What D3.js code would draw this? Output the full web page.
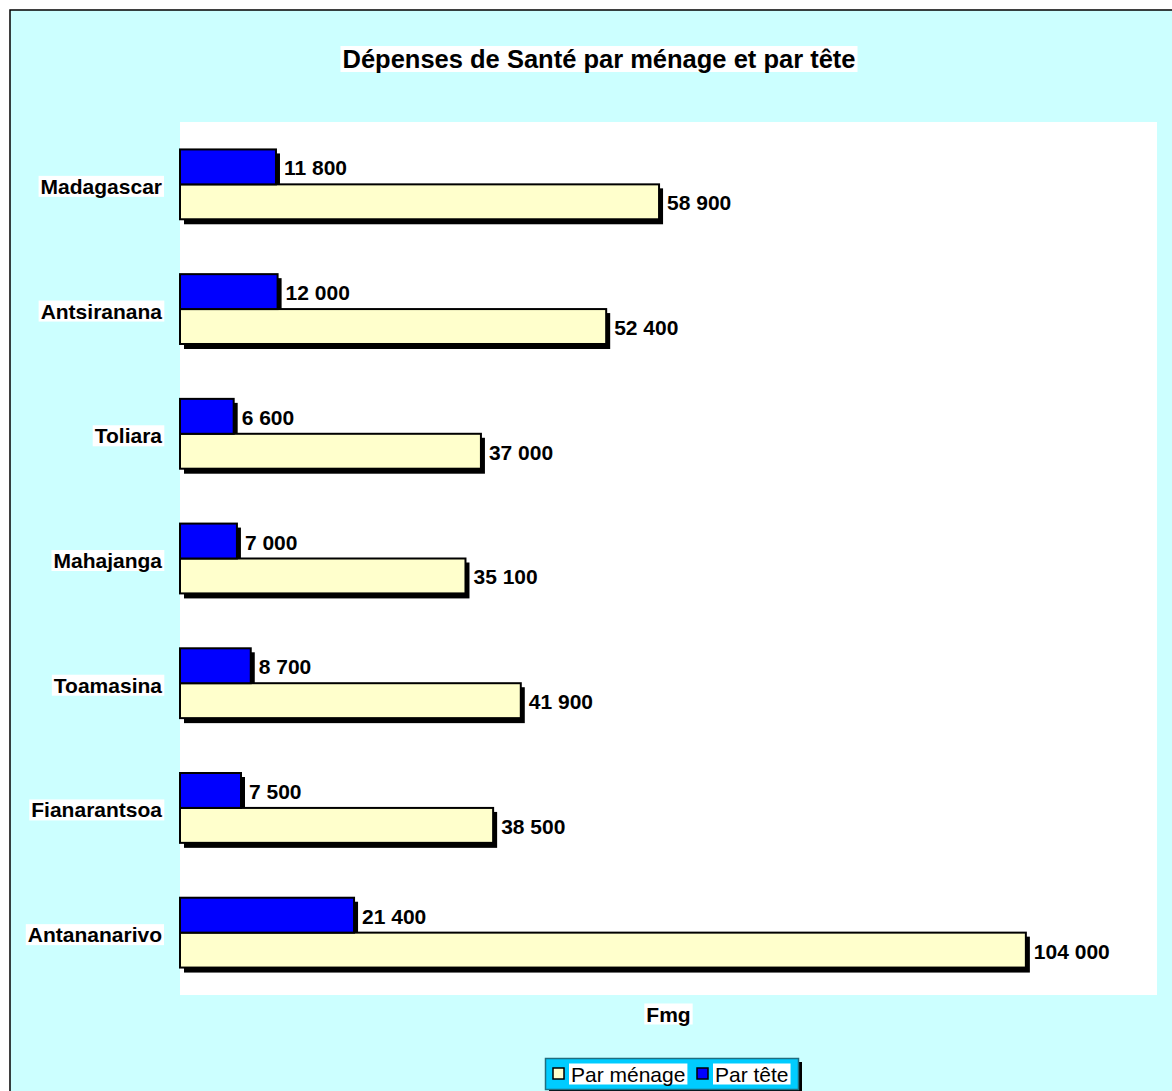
<!DOCTYPE html>
<html>
<head>
<meta charset="utf-8">
<script src="https://cdn.jsdelivr.net/npm/d3@7/dist/d3.min.js"></script>
<style>
  body { margin: 0; background: #fff; }
  text { font-family: Arial, "Liberation Sans", sans-serif; }
</style>
</head>
<body>
<div id="chart"></div>
<script>
const regions = ['Madagascar', 'Antsiranana', 'Toliara', 'Mahajanga', 'Toamasina', 'Fianarantsoa', 'Antananarivo']
const parTete = [11800, 12000, 6600, 7000, 8700, 7500, 21400]
const parMenage = [58900, 52400, 37000, 35100, 41900, 38500, 104000]
const seriesNames = ['Par ménage', 'Par tête']
const seriesColors = ['#FFFFCC', '#0000FF']

const width = 1172
const height = 1091
const svg = d3.select('#chart').append('svg').attr('width', width).attr('height', height)

// chart background
svg.append('rect').attr('x', 10).attr('y', 10).attr('width', 1200).attr('height', 1200)
	.attr('fill', '#CCFFFF').attr('stroke', '#000').attr('stroke-width', 1.5)

const plot = { left: 180, top: 122, right: 1157, bottom: 995 }
svg.append('rect').attr('x', plot.left).attr('y', plot.top)
	.attr('width', plot.right - plot.left).attr('height', plot.bottom - plot.top).attr('fill', '#fff')

const x = d3.scaleLinear().domain([0, 120000]).range([plot.left, plot.right - 1])
const y = d3.scaleBand().domain(regions).range([plot.top, plot.bottom]).paddingInner(0.44).paddingOuter(0.22)
const ySub = d3.scaleBand().domain(['tete', 'menage']).range([0, y.bandwidth()])

const fmt = (v) => d3.format(',')(v).replace(/,/g, ' ')

// text with white box behind it
function boxedText(g, tx, ty, str, anchor, size, weight) {
	const t = g.append('text').attr('x', tx).attr('y', ty).attr('text-anchor', anchor)
		.attr('dominant-baseline', 'central').attr('font-size', size).attr('font-weight', weight)
		.attr('fill', '#000').text(str)
	const b = t.node().getBBox()
	g.insert('rect', () => t.node()).attr('x', b.x - 2).attr('y', b.y + 1).attr('width', b.width + 4).attr('height', b.height - 2)
		.attr('fill', '#fff')
	return t
}

const rows = regions.map((r, i) => ({ region: r, tete: parTete[i], menage: parMenage[i] }))

const groups = svg.append('g').selectAll('g').data(rows).enter().append('g')
	.attr('transform', (d) => `translate(0,${y(d.region)})`)

const bars = [
	{ key: 'menage', color: seriesColors[0] },
	{ key: 'tete', color: seriesColors[1] }
]

// shadows first
bars.forEach((s) => {
	groups.append('rect')
		.attr('x', x(0) + 4).attr('y', ySub(s.key) + 4)
		.attr('width', (d) => x(d[s.key]) - x(0)).attr('height', ySub.bandwidth() + 1)
		.attr('fill', '#000')
})
bars.forEach((s) => {
	groups.append('rect')
		.attr('x', x(0)).attr('y', ySub(s.key))
		.attr('width', (d) => x(d[s.key]) - x(0)).attr('height', ySub.bandwidth())
		.attr('fill', s.color).attr('stroke', '#000').attr('stroke-width', 2)
})

// value labels
groups.each(function (d) {
	const g = d3.select(this)
	bars.forEach((s) => {
		boxedText(g, x(d[s.key]) + 8, ySub(s.key) + ySub.bandwidth() / 2 + 1, fmt(d[s.key]), 'start', '21px', 'bold')
	})
})

// category labels
const labels = svg.append('g')
regions.forEach((r) => {
	boxedText(labels, 162, y(r) + y.bandwidth() / 2 + 2, r, 'end', '21px', 'bold')
})

// title
boxedText(svg.append('g'), 599, 59, 'Dépenses de Santé par ménage et par tête', 'middle', '25.5px', 'bold')

// axis title
boxedText(svg.append('g'), (plot.left + plot.right) / 2, 1014, 'Fmg', 'middle', '21px', 'bold')

// legend
const lg = svg.append('g')
lg.append('rect').attr('x', 549).attr('y', 1062).attr('width', 253).attr('height', 32).attr('fill', '#000')
lg.append('rect').attr('x', 545.5).attr('y', 1058.5).attr('width', 253).attr('height', 31)
	.attr('fill', '#00CCFF').attr('stroke', '#1F6E80').attr('stroke-width', 1.5)
const legendX = [553, 697]
seriesNames.forEach((name, i) => {
	lg.append('rect').attr('x', legendX[i]).attr('y', 1068).attr('width', 11).attr('height', 11)
		.attr('fill', seriesColors[i]).attr('stroke', '#000').attr('stroke-width', 1.5)
	boxedText(lg, legendX[i] + 18, 1074, name, 'start', '21px', 'normal')
})
</script>
</body>
</html>
